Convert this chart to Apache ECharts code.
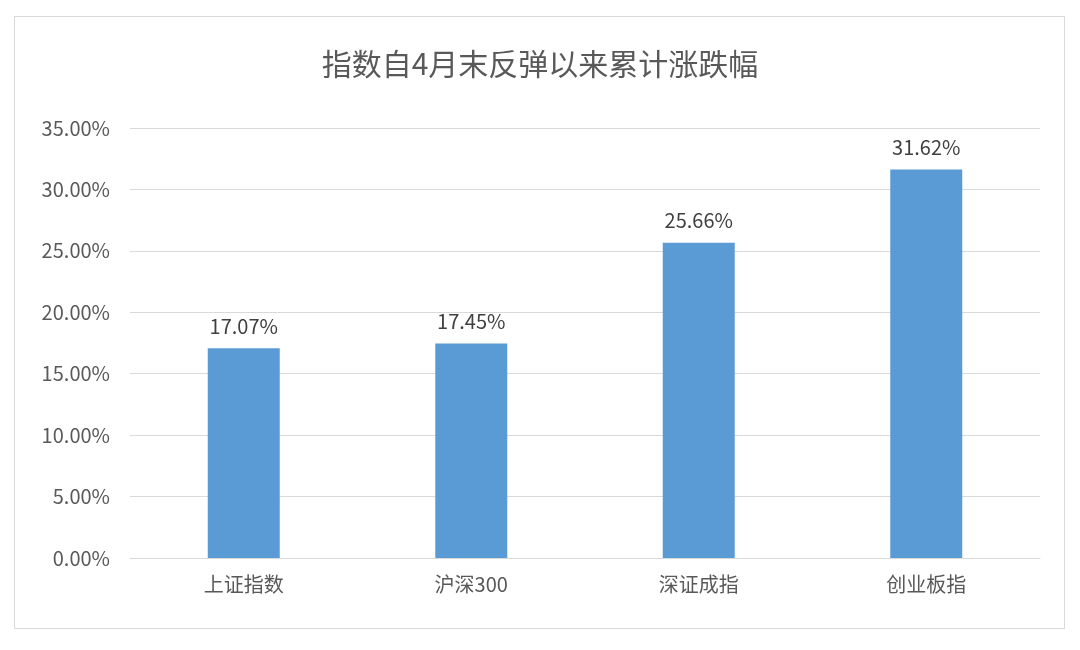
<!DOCTYPE html>
<html><head><meta charset="utf-8">
<script src="https://cdn.jsdelivr.net/npm/echarts@6/dist/echarts.min.js"></script>
<style>html,body{margin:0;padding:0;background:#fff}
#frame{position:absolute;left:14px;top:16px;width:1051px;height:613px;border:1px solid #d9d9d9;box-sizing:border-box}
#c{width:1080px;height:650px}</style></head>
<body><div id="frame"></div><div id="c"></div>
<script>
const categories = ['上证指数','沪深300','深证成指','创业板指'];
const values = [17.07, 17.45, 25.66, 31.62];
const title = '指数自4月末反弹以来累计涨跌幅';
const font = '"Noto Sans CJK SC", "Noto Sans", sans-serif';
const chart = echarts.init(document.getElementById('c'));
chart.setOption({
  animation:false,
  title:{text:title,left:'center',top:44,textStyle:{fontFamily:font,fontSize:30,fontWeight:'normal',color:'#595959'}},
  grid:{left:130,right:40,top:128,bottom:92},
  xAxis:{type:'category',data:categories,axisTick:{show:false},
    axisLine:{lineStyle:{color:'#d9d9d9'}},
    axisLabel:{fontFamily:font,fontSize:20,color:'#595959',margin:16}},
  yAxis:{type:'value',min:0,max:35,interval:5,
    axisLabel:{fontFamily:font,fontSize:20,color:'#595959',margin:20,formatter:v=>v.toFixed(2)+'%'},
    splitLine:{lineStyle:{color:'#d9d9d9'}},axisLine:{show:false},axisTick:{show:false}},
  series:[{type:'bar',data:values,barWidth:72,itemStyle:{color:'#5B9BD5'},
    label:{show:true,position:'top',distance:12,fontFamily:font,fontSize:20,color:'#404040',formatter:p=>p.value.toFixed(2)+'%'}}]
});
</script></body></html>
